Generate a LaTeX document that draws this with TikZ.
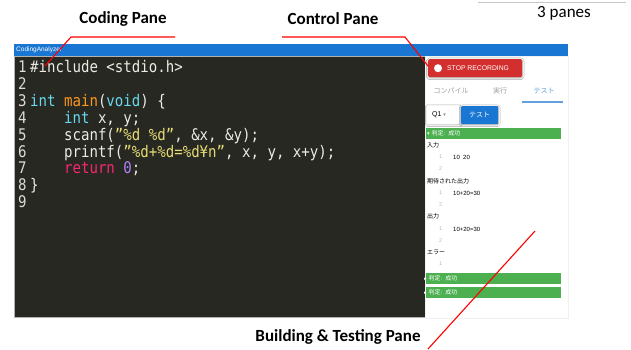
\documentclass[tikz,border=0pt]{standalone}
\usepackage{fontspec}
\setmainfont{Carlito}
\newfontfamily\jpfont{Noto Sans CJK JP}
\newfontfamily\codefont[FakeStretch=0.88]{DejaVu Sans Mono}
\newfontfamily\uifont{Liberation Sans}
\newfontfamily\symfont{DejaVu Sans}
\definecolor{titleblue}{RGB}{25,118,210}
\definecolor{editorbg}{RGB}{39,40,34}
\definecolor{codewhite}{RGB}{236,236,228}
\definecolor{kwcyan}{RGB}{102,217,239}
\definecolor{fnorange}{RGB}{253,151,31}
\definecolor{stryellow}{RGB}{230,219,116}
\definecolor{kwpink}{RGB}{249,38,114}
\definecolor{numpurple}{RGB}{174,129,255}
\definecolor{stopred}{RGB}{211,47,47}
\definecolor{verdictgreen}{RGB}{76,175,80}
\definecolor{tabblue}{RGB}{100,160,220}
\usetikzlibrary{positioning,calc,shadows.blur}

\tikzset{
  panelabel/.style={font=\bfseries\fontsize{17}{20}\selectfont, inner sep=0pt},
  redline/.style={draw=red, line width=1.1pt},
  codeline/.style={anchor=base west, inner sep=0pt, text=codewhite, font=\codefont\fontsize{16}{18}\selectfont},
  codeno/.style={codeline, text=codewhite!85!gray},
  jptext/.style={anchor=west, inner sep=0pt, font=\jpfont\fontsize{6}{7}\selectfont},
  lineno/.style={anchor=west, inner sep=0pt, text=gray!55, font=\uifont\fontsize{5.5}{7}\selectfont},
  verdict/.style={fill=verdictgreen, anchor=north west, inner xsep=1pt, inner ysep=0pt,
    text width=133pt, minimum height=11pt, text=white, font=\jpfont\fontsize{6}{7}\selectfont}
}

\begin{document}
\begin{tikzpicture}[x=1pt,y=-1pt]
\useasboundingbox (0,0) rectangle (631,349);

% labels on top
\draw[gray!45, line width=1pt] (478,2) -- (626,2);
\node[inner sep=0pt, font=\fontsize{17}{20}\selectfont] (paneslbl) at (564,13) {3 panes};
\node[panelabel] (codelbl) at (123,19) {Coding Pane};
\node[panelabel] (ctrllbl) at (333,19) {Control Pane};
\node[panelabel] (buildlbl) at (338,337) {Building \& Testing Pane};

% window
\node[fill=titleblue, anchor=north west, minimum width=554pt, minimum height=12pt, inner sep=0pt] (titlebar) at (14,44) {};
\node[anchor=west, inner sep=0pt, text=white, font=\uifont\fontsize{6.5}{7}\selectfont] (apptitle) at ([xshift=2pt]titlebar.west) {CodingAnalyzer};
\node[fill=editorbg, draw=gray!60, line width=0.4pt, anchor=north west, minimum width=411pt, minimum height=261pt, inner sep=0pt] (editor) at (14,56) {};
\node[fill=white, draw=gray!12, anchor=north west, minimum width=143pt, minimum height=262pt, inner sep=0pt] (sidepanel) at (425,56) {};

% code
\foreach \n in {1,...,9}
  \node[codeno] (no\n) at (18,{72.5+(\n-1)*16.9}) {\n};
\node[codeline] (code1) at (30,72.5) {\#include <stdio.h>};
\node[codeline] (code3) at (30,106.3) {\textcolor{kwcyan}{int} \textcolor{fnorange}{main}(\textcolor{kwcyan}{void}) \{};
\node[codeline] (code4) at (30,123.2) {\phantom{xxxx}\textcolor{kwcyan}{int} x, y;};
\node[codeline] (code5) at (30,140.1) {\phantom{xxxx}scanf(\textcolor{stryellow}{”\%d \%d”}, \&x, \&y);};
\node[codeline] (code6) at (30,157.0) {\phantom{xxxx}printf(\textcolor{stryellow}{”\%d+\%d=\%d¥n”}, x, y, x+y);};
\node[codeline] (code7) at (30,173.9) {\phantom{xxxx}\textcolor{kwpink}{return} \textcolor{numpurple}{0};};
\node[codeline] (code8) at (30,190.8) {\}};

% control pane
\node[fill=stopred, rounded corners=1.5pt, blur shadow={shadow blur steps=4, shadow xshift=0pt, shadow yshift=-0.6pt},
  anchor=north west, minimum width=94pt, minimum height=18pt, inner sep=0pt] (stopbtn) at (428,59) {};
\fill[white] ([xshift=10pt]stopbtn.west) circle (4pt);
\node[anchor=west, inner sep=0pt, text=white, font=\uifont\fontsize{6.8}{7}\selectfont] (stoptext) at ([xshift=19pt]stopbtn.west) {STOP RECORDING};

\node[jptext, anchor=center, text=gray!75, font=\jpfont\fontsize{7}{8}\selectfont] (tabcompile) at (451,91) {コンパイル};
\node[jptext, anchor=center, text=gray!75, font=\jpfont\fontsize{7}{8}\selectfont] (tabrun) at (500,91) {実行};
\node[jptext, anchor=center, text=tabblue, font=\jpfont\fontsize{7}{8}\selectfont] (tabtest) at (544,91) {テスト};
\draw[tabblue, line width=1.5pt] (522,102) -- (563,102);

\node[fill=white, blur shadow={shadow blur steps=4, shadow xshift=0pt, shadow yshift=-0.5pt, shadow opacity=25},
  anchor=north west, minimum width=33pt, minimum height=18pt, inner sep=0pt] (qselect) at (427,106) {};
\node[anchor=west, inner sep=0pt, font=\uifont\fontsize{7}{8}\selectfont] (qtext) at ([xshift=5pt]qselect.west) {Q1 \textcolor{gray}{\symfont\fontsize{5}{6}\selectfont ▾}};
\node[fill=titleblue, rounded corners=1pt, blur shadow={shadow blur steps=4, shadow xshift=0pt, shadow yshift=-0.5pt},
  anchor=north west, minimum width=37pt, minimum height=18pt, inner sep=0pt, text=white,
  font=\jpfont\fontsize{7}{8}\selectfont] (testbtn) at (461,106) {テスト};

% results
\node[verdict] (verdict1) at (426,128) {{\symfont\fontsize{5}{6}\selectfont ▾} 判定: 成功};
\node[jptext] (inlbl) at (427,145) {入力};
\node[lineno] (in1) at (439,157) {1};
\node[jptext, font=\uifont\fontsize{6}{7}\selectfont] (inval) at (453,157) {10\ \ 20};
\node[lineno] (in2) at (439,169) {2};
\node[jptext] (explbl) at (427,181) {期待された出力};
\node[lineno] (exp1) at (439,193) {1};
\node[jptext, font=\uifont\fontsize{6}{7}\selectfont] (expval) at (453,193) {10+20=30};
\node[lineno] (exp2) at (439,205) {2};
\node[jptext] (outlbl) at (427,216) {出力};
\node[lineno] (out1) at (439,229) {1};
\node[jptext, font=\uifont\fontsize{6}{7}\selectfont] (outval) at (453,229) {10+20=30};
\node[lineno] (out2) at (439,241) {2};
\node[jptext] (errlbl) at (427,252) {エラー};
\node[lineno] (err1) at (439,264) {1};
\node[verdict] (verdict2) at (426,273) {\hspace*{-3pt}{\symfont\fontsize{5}{6}\selectfont ▸} 判定: 成功};
\node[verdict] (verdict3) at (426,287) {\hspace*{-3pt}{\symfont\fontsize{5}{6}\selectfont ▸} 判定: 成功};

% pointers
\coordinate (codeend) at (175,37);
\coordinate (codebend) at (71,37);
\coordinate (codetip) at (45,66);
\draw[redline] (codeend) -- (codebend) -- (codetip);
\coordinate (ctrlstart) at (282,37);
\coordinate (ctrlbend) at (405,37);
\coordinate (ctrltip) at (428,66);
\draw[redline] (ctrlstart) -- (ctrlbend) -- (ctrltip);
\coordinate (buildtip) at (535,231);
\coordinate (buildend) at (428,349);
\draw[redline] (buildtip) -- (buildend);
\end{tikzpicture}
\end{document}
